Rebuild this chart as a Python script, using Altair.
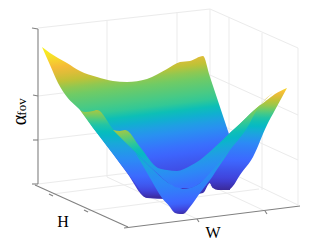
import altair as alt
import numpy as np
import pandas as pd

# colour map of the surface (level 0..1)
cmap_t = [0, .12, .25, .37, .48, .56, .66, .76, .85, .92, 1]
cmap_c = ["#3b2a98", "#4040d8", "#3d68ff", "#2b8cf5", "#19a8da", "#02bcc0",
          "#35c994", "#7ccb5c", "#c3c235", "#f5b83a", "#f8f01e"]

# surface sheets: x, upper edge, lower edge
back_x = [42, 50, 58, 67, 80, 97, 113, 127, 147, 167, 180, 190, 203, 210, 213, 230]
back_t = [47, 53, 58, 63, 71, 77, 81, 82, 79, 69, 62, 61, 56, 77, 86, 137]
back_b = [47, 65, 83, 97, 110, 133, 154, 173, 198, 199, 197, 195, 193, 183, 188, 190]
back_lv = ([52, 62, 75, 88, 99, 124.5, 134.5, 149.5, 169.5, 184, 209, 222],
           [1, .98, .92, .85, .76, .66, .56, .42, .27, .2, .1, 0])

tail_x = [210, 213, 218, 228, 233, 240, 253, 267, 275, 287]
tail_t = [158, 155, 150, 135, 130, 124, 111, 100, 94, 88]
tail_b = [183, 188, 190, 190, 186, 175, 157, 125, 110, 88]
tail_lv = ([88, 93, 105, 118, 125, 143, 165, 180, 190], [.97, .92, .8, .62, .56, .36, .22, .12, 0])

mid_x = [113, 120, 125, 140, 158, 167, 177, 190, 200, 215, 230, 247, 258, 273, 287]
mid_t = [130, 131, 130, 147, 168, 170, 171, 166, 160, 147, 133, 117, 107, 93, 88]
mid_b = [130, 137, 142, 157, 174, 182, 188, 188, 183, 170, 150, 128, 108, 93, 88]
mid_lv = ([140, 143, 153, 172, 196, 203, 220, 240], [.97, .92, .8, .6, .42, .38, .27, .2])

left_x = [80, 85, 93, 97, 113, 140, 145, 162]
left_t = [110, 112, 111, 110, 129, 157, 162, 178]
left_b = [110, 117, 128, 133, 154, 190, 197, 198]
left_lv = ([110, 125, 145, 165, 185, 192, 198], [.82, .62, .47, .33, .2, .12, 0])

vee_x = [135, 150, 162, 170, 172, 175, 180, 183, 190, 200, 210, 220, 230]
vee_t = [152, 167, 178, 184, 185, 187, 188, 189, 188, 183, 173, 162, 150]
vee_b = [152, 178, 198, 207, 210, 213, 214, 214, 207, 193, 180, 165, 150]
vee_lv = ([171, 190, 206, 222, 228, 233], [.52, .4, .33, .23, .13, 0])

# box of the 3-D axes: x, y, x2, y2
grid = [
    (38, 28, 210, 9), (210, 9, 298, 48), (298, 48, 298, 205), (210, 9, 210, 163),
    (107, 20, 107, 177), (177, 12, 177, 170), (229, 17, 229, 172), (262, 33, 262, 190),
    (38, 96, 210, 75), (38, 140, 210, 120), (210, 75, 298, 115), (210, 120, 298, 160),
    (38, 184, 210, 163), (210, 163, 298, 205),
    (53, 194, 224, 172), (88, 211, 259, 189), (197, 219, 107, 177), (265, 211, 177, 170),
]
axes = [
    (38, 29, 38, 184), (35, 185, 128, 227), (124, 228, 300, 206),
    (32, 28, 38, 29), (33, 95, 38, 96), (33, 140, 38, 140), (32, 184, 38, 184),
    (49, 194, 53, 196), (84, 210, 88, 212), (197, 219, 199, 222), (265, 211, 267, 214),
]
labels = [
    ("H", 63, 222, 16, 0), ("W", 213, 233, 16, 0),
    ("α", 20, 120, 20, 270), ("fov", 22, 107, 13, 270),
]

sx = alt.Scale(domain=[8, 304])
sy = alt.Scale(domain=[243, 8])


def colour(t):
    rgb = np.array([[int(c[i:i + 2], 16) for i in (1, 3, 5)] for c in cmap_c], float)
    return "#%02x%02x%02x" % tuple(int(round(np.interp(t, cmap_t, rgb[:, i]))) for i in range(3))


def sheet(xs, top, bot, levels, k):
    xs_, top_, bot_ = map(np.array, (xs, top, bot))
    x0, x1 = xs_.min(), xs_.max()
    y0, y1 = top_.min(), bot_.max()
    W, H = x1 - x0, y1 - y0
    s = (k * W + H) / ((k * W) ** 2 + H ** 2)
    zmin = y0 + k * x0
    zspan = H + k * W
    stops = []
    for i in range(25):
        off = i / 24
        t = float(np.interp(zmin + off * zspan, levels[0], levels[1]))
        stops.append(alt.GradientStop(offset=off, color=colour(t)))
    grad = alt.LinearGradient(gradient="linear", stops=stops,
                              x1=0, y1=0, x2=float(k * W * s), y2=float(H * s))
    df = pd.DataFrame({"x": xs, "t": top, "b": bot})
    return alt.Chart(df).mark_area(color=grad, opacity=1, interpolate="monotone").encode(
        x=alt.X("x:Q", scale=sx, axis=None),
        y=alt.Y("t:Q", scale=sy, axis=None),
        y2="b:Q",
    )


def rules(rows, colour_, w):
    df = pd.DataFrame(rows, columns=["x", "y", "x2", "y2"])
    return alt.Chart(df).mark_rule(color=colour_, strokeWidth=w).encode(
        x=alt.X("x:Q", scale=sx, axis=None),
        y=alt.Y("y:Q", scale=sy, axis=None),
        x2="x2:Q", y2="y2:Q",
    )


text_layers = []
for s, x, y, size, ang in labels:
    df = pd.DataFrame({"s": [s], "x": [x], "y": [y]})
    text_layers.append(
        alt.Chart(df).mark_text(font="Liberation Serif", fontSize=size, angle=ang,
                                align="center", baseline="middle", color="#000000").encode(
            x=alt.X("x:Q", scale=sx, axis=None),
            y=alt.Y("y:Q", scale=sy, axis=None),
            text="s:N",
        )
    )

chart = alt.layer(
    rules(grid, "#ebebeb", 1),
    rules(axes, "#808080", 1.1),
    sheet(back_x, back_t, back_b, back_lv, 0.122),
    sheet(tail_x, tail_t, tail_b, tail_lv, 0),
    sheet(left_x, left_t, left_b, left_lv, 0),
    sheet(mid_x, mid_t, mid_b, mid_lv, 0.18),
    sheet(vee_x, vee_t, vee_b, vee_lv, 0.1),
    *text_layers,
).properties(width=296, height=235, padding=0, autosize=alt.AutoSizeParams(type="none")
).configure_view(stroke=None)

chart.save("out.html", embed_options={"renderer": "svg", "actions": False})
